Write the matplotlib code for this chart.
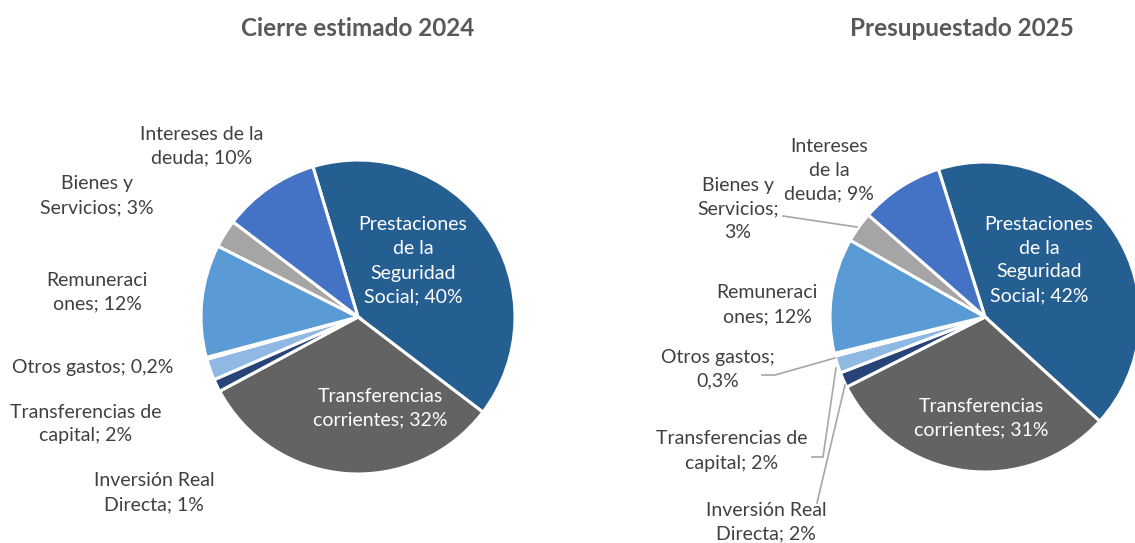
import matplotlib
matplotlib.use("Agg")
import matplotlib.pyplot as plt

plt.rcParams['font.family'] = ['Lato', 'DejaVu Sans']

W, H = 1135, 543

categories = ["Prestaciones de la Seguridad Social", "Transferencias corrientes",
              "Inversión Real Directa", "Transferencias de capital", "Otros gastos",
              "Remuneraciones", "Bienes y Servicios", "Intereses de la deuda"]
values_2024 = [40.0, 31.8, 1.3, 2.2, 0.2, 11.6, 2.9, 10.0]
values_2025 = [41.6, 30.8, 1.6, 1.8, 0.3, 12.0, 3.2, 8.7]
labels_2024 = ["Prestaciones\nde la\nSeguridad\nSocial; 40%", "Transferencias\ncorrientes; 32%",
               "Inversión Real\nDirecta; 1%", "Transferencias de\ncapital; 2%",
               "Otros gastos; 0,2%", "Remuneraci\nones; 12%", "Bienes y\nServicios; 3%",
               "Intereses de la\ndeuda; 10%"]
labels_2025 = ["Prestaciones\nde la\nSeguridad\nSocial; 42%", "Transferencias\ncorrientes; 31%",
               "Inversión Real\nDirecta; 2%", "Transferencias de\ncapital; 2%",
               "Otros gastos;\n0,3%", "Remuneraci\nones; 12%", "Bienes y\nServicios;\n3%",
               "Intereses\nde la\ndeuda; 9%"]
titles = ["Cierre estimado 2024", "Presupuestado 2025"]

colors = ["#255E91", "#636363", "#264478", "#8FB8E3", "#E4EEF8", "#5B9BD5", "#A5A5A5", "#4472C4"]

fig = plt.figure(figsize=(W / 100, H / 100), dpi=100)
ax = fig.add_axes([0, 0, 1, 1])

def py(y):
    return H - y

pies = [
    dict(values=values_2024, labels=labels_2024, center=(358, py(317)), r=157, start=106.7,
         title=titles[0], tx=358,
         label_pos=[(413, 261), (380, 408), (154, 493), (86, 424), (93, 367), (97, 292), (97, 196), (202, 146)]),
    dict(values=values_2025, labels=labels_2025, center=(985, py(317)), r=155, start=107.5,
         title=titles[1], tx=962,
         label_pos=[(1039, 260), (981, 418), (766, 522), (732, 451), (718, 369), (767, 305), (738, 209), (829, 170)]),
]

FS = 14
for p in pies:
    ax.pie(p["values"], colors=colors, startangle=p["start"], counterclock=False,
           center=p["center"], radius=p["r"],
           wedgeprops=dict(edgecolor="white", linewidth=2.2), frame=True)
    for i, (lab, (lx, ly)) in enumerate(zip(p["labels"], p["label_pos"])):
        inside = i < 2
        ax.text(lx, py(ly), lab, ha="center", va="center", fontsize=FS,
                color="white" if inside else "#404040", linespacing=1.5)
    ax.text(p["tx"], py(28), p["title"], ha="center", va="center", fontsize=17.5,
            fontweight="bold", color="#595959")

ax.set_xlim(0, W)
ax.set_ylim(0, H)
ax.set_aspect("equal")
ax.set_axis_off()

lc = "#A6A6A6"
leaders = [
    [(783, 216), (857, 227)],
    [(762, 375), (775, 375), (835, 358)],
    [(812, 457), (823, 457), (836, 368)],
    [(817, 503), (845, 385)],
]
for pts in leaders:
    ax.plot([q[0] for q in pts], [py(q[1]) for q in pts], color=lc, lw=1.2)

fig.savefig("out.png", dpi=100)
